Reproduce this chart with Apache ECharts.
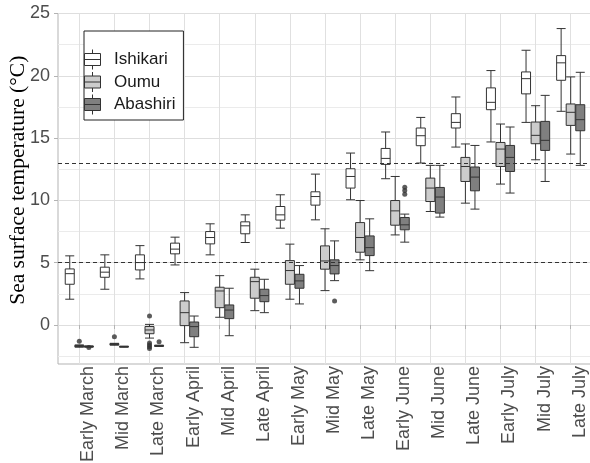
<!DOCTYPE html>
<html>
<head>
<meta charset="utf-8">
<script src="https://cdn.jsdelivr.net/npm/echarts@6/dist/echarts.min.js"></script>
<style>
  html, body { margin: 0; padding: 0; background: #fff; }
  #chart { width: 590px; height: 463px; }
</style>
</head>
<body>
<div id="chart"></div>
<script>
// ten-day periods on the x axis
const periods = ['Early March', 'Mid March', 'Late March', 'Early April', 'Mid April', 'Late April',
  'Early May', 'Mid May', 'Late May', 'Early June', 'Mid June', 'Late June',
  'Early July', 'Mid July', 'Late July'];
const seriesNames = ['Ishikari', 'Oumu', 'Abashiri'];

// [lower whisker, Q1, median, Q3, upper whisker]
const ishikari = [
  [2.07, 3.27, 4.12, 4.50, 5.55],
  [2.87, 3.83, 4.24, 4.64, 5.63],
  [3.70, 4.42, 5.01, 5.63, 6.37],
  [4.82, 5.71, 6.09, 6.57, 7.05],
  [5.63, 6.51, 7.02, 7.50, 8.12],
  [6.62, 7.32, 7.96, 8.28, 8.84],
  [7.77, 8.42, 8.84, 9.51, 10.45],
  [8.44, 9.62, 10.31, 10.69, 12.11],
  [10.05, 10.99, 11.92, 12.54, 13.80],
  [11.74, 12.89, 13.37, 14.17, 15.49],
  [13.00, 14.39, 15.19, 15.81, 16.66],
  [14.28, 15.81, 16.26, 16.96, 18.30],
  [14.69, 17.28, 17.87, 19.03, 20.42],
  [16.26, 18.55, 19.77, 20.31, 22.05],
  [17.15, 19.64, 21.04, 21.62, 23.79]
];
const oumu = [
  [-1.78, -1.74, -1.70, -1.64, -1.60],
  [-1.62, -1.58, -1.55, -1.50, -1.47],
  [-1.05, -0.70, -0.40, -0.12, 0.05],
  [-1.42, -0.05, 0.99, 1.93, 2.60],
  [0.62, 1.39, 2.73, 3.03, 3.96],
  [1.15, 2.15, 3.48, 3.83, 4.48],
  [2.07, 3.27, 4.37, 5.17, 6.49],
  [2.76, 4.48, 5.14, 6.35, 7.72],
  [5.23, 5.84, 7.02, 8.22, 9.99],
  [7.23, 8.01, 9.16, 9.99, 11.92],
  [9.11, 9.91, 10.99, 11.79, 12.81],
  [9.78, 11.52, 12.72, 13.45, 14.53],
  [11.31, 12.72, 14.12, 14.65, 16.13],
  [13.26, 14.55, 15.22, 16.29, 17.60],
  [13.72, 16.02, 17.07, 17.74, 19.91]
];
const abashiri = [
  [-1.78, -1.76, -1.73, -1.70, -1.68],
  [-1.78, -1.76, -1.74, -1.72, -1.70],
  [-1.72, -1.70, -1.67, -1.64, -1.62],
  [-1.79, -0.94, -0.13, 0.24, 0.72],
  [-0.86, 0.51, 1.20, 1.61, 2.95],
  [0.99, 1.87, 2.36, 2.87, 3.67],
  [1.69, 2.95, 3.54, 4.07, 4.77],
  [3.56, 4.10, 4.77, 5.23, 6.75],
  [4.36, 5.57, 6.21, 7.15, 8.52],
  [6.65, 7.64, 8.04, 8.63, 8.90],
  [8.66, 8.98, 10.27, 11.04, 12.81],
  [9.30, 10.77, 11.87, 12.68, 14.41],
  [10.59, 12.32, 13.45, 14.41, 15.89],
  [11.52, 14.01, 14.82, 16.34, 18.43],
  [12.81, 15.59, 16.48, 17.68, 20.28]
];

// outlying points
const oumuOutliers = [
  ['Early March', -1.30], ['Mid March', -0.94],
  ['Late March', 0.72], ['Late March', -1.45], ['Late March', -1.60],
  ['Late March', -1.75], ['Late March', -1.88]
];
const abashiriOutliers = [
  ['Early March', -1.80], ['Late March', -1.34], ['Mid May', 1.93],
  ['Early June', 11.05], ['Early June', 10.80], ['Early June', 10.50]
];

const yLabels = [0, 5, 10, 15, 20, 25];
const yGrid = [-2.5, 0, 2.5, 5, 7.5, 10, 12.5, 15, 17.5, 20, 22.5, 25];
const refLines = [5, 13];
const yMin = -3.13;
const yMax = 25;

const fills = ['#ffffff', '#cccccc', '#7f7f7f'];
const sans = 'Liberation Sans, Arial, sans-serif';
const boxIcon = 'path://M0,4L16,4L16,16L0,16Z M0,10L16,10 M8,0L8,4 M8,16L8,20';

const bandLeft = 61.75;
const bandWidth = 35.1;
// dodge offset used by the boxplot layout for 3 series
const dodge = (bandWidth * 0.8 - 2) * 11 / 30;

const chart = echarts.init(document.getElementById('chart'), null, { renderer: 'canvas' });

const boxSeries = [ishikari, oumu, abashiri].map(function (d, i) {
  return {
    name: seriesNames[i],
    type: 'boxplot',
    xAxisIndex: 1,
    yAxisIndex: 2,
    data: d,
    boxWidth: [9, 9],
    z: 3,
    itemStyle: { color: fills[i], borderColor: '#333333', borderWidth: 1 },
    emphasis: { disabled: true }
  };
});

const option = {
  animation: false,
  backgroundColor: '#ffffff',
  grid: [
    { left: 58, right: -2, top: 13.5, bottom: 99, outerBoundsMode: 'none', containLabel: false,
      show: true, borderColor: '#b3b3b3', borderWidth: 1 },
    { left: bandLeft, width: bandWidth * periods.length, top: 13.5, bottom: 99,
      outerBoundsMode: 'none', containLabel: false }
  ],
  legend: {
    data: seriesNames.map(function (n, i) {
      return { name: n, itemStyle: { color: fills[i], borderColor: '#333333', borderWidth: 1 } };
    }),
    orient: 'vertical',
    left: 84,
    top: 31,
    padding: [18, 8, 5, 0],
    itemGap: 1.5,
    itemWidth: 33,
    itemHeight: 20,
    icon: boxIcon,
    selectedMode: false,
    borderColor: '#222222',
    borderWidth: 1,
    backgroundColor: '#ffffff',
    textStyle: { fontSize: 17, color: '#1a1a1a', fontFamily: sans }
  },
  xAxis: [
    { type: 'value', gridIndex: 0, min: 0, max: 1, show: false },
    {
      type: 'category',
      gridIndex: 1,
      data: periods,
      boundaryGap: true,
      axisLine: { show: false },
      axisTick: { show: true, alignWithLabel: true, interval: 0, length: 4, lineStyle: { color: '#b3b3b3' } },
      axisLabel: {
        interval: 0, rotate: 90, verticalAlign: 'top', margin: 2,
        fontSize: 18, color: '#4d4d4d', fontFamily: sans
      },
      splitLine: { show: true, alignWithLabel: true, interval: 0, lineStyle: { color: '#e0e0e0', width: 1 } }
    }
  ],
  yAxis: [
    {
      type: 'value', gridIndex: 0, min: yMin, max: yMax,
      name: 'Sea surface temperature (\u00B0C)',
      nameLocation: 'middle',
      nameRotate: 90,
      nameGap: 29,
      nameMoveOverlap: false,
      nameTextStyle: {
        fontFamily: 'Liberation Serif, Times New Roman, serif', fontSize: 21.5, color: '#000000',
        padding: [0, 0, 0, 17]
      },
      axisLine: { show: false },
      axisTick: { show: false, customValues: yGrid },
      axisLabel: { customValues: yLabels, margin: 8, fontSize: 18, color: '#4d4d4d', fontFamily: sans },
      splitLine: { show: true, lineStyle: { color: ['#ebebeb', '#dedede'], width: 1 } }
    },
    {
      type: 'value', gridIndex: 1, min: yMin, max: yMax, offset: bandLeft - 58,
      axisLine: { show: false },
      axisTick: { show: true, customValues: yLabels, length: 4, lineStyle: { color: '#b3b3b3' } },
      axisLabel: { show: false },
      splitLine: { show: false }
    },
    { type: 'value', gridIndex: 1, min: yMin, max: yMax, show: false, splitLine: { show: false } }
  ],
  series: boxSeries.concat([
    {
      name: 'Oumu outliers',
      type: 'scatter',
      xAxisIndex: 1,
      yAxisIndex: 2,
      data: oumuOutliers,
      symbolSize: 5,
      z: 4,
      itemStyle: { color: '#333333' },
      emphasis: { disabled: true }
    },
    {
      name: 'Abashiri outliers',
      type: 'scatter',
      xAxisIndex: 1,
      yAxisIndex: 2,
      data: abashiriOutliers,
      symbolSize: 5,
      symbolOffset: [dodge, 0],
      z: 4,
      itemStyle: { color: '#333333' },
      emphasis: { disabled: true }
    },
    {
      name: 'reference',
      type: 'line',
      xAxisIndex: 0,
      yAxisIndex: 0,
      data: [],
      z: 6,
      markLine: {
        silent: true,
        symbol: 'none',
        label: { show: false },
        lineStyle: { type: [4, 3], color: '#333333', width: 1 },
        data: refLines.map(function (v) { return { yAxis: v }; })
      }
    }
  ])
};

chart.setOption(option);
</script>
</body>
</html>
